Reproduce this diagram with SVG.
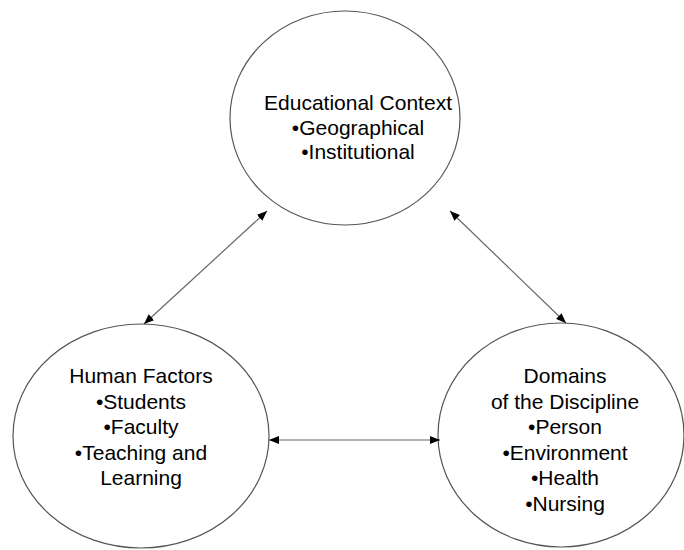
<svg xmlns="http://www.w3.org/2000/svg" width="684" height="550" viewBox="0 0 684 550">
<style>
.node ellipse{fill:#fff;stroke:#555;stroke-width:1.2}
.node text{font-family:"Liberation Sans",Arial,sans-serif;font-size:21px;fill:#000;text-anchor:middle}
.conn line{stroke:#666;stroke-width:1.2;marker-start:url(#ah);marker-end:url(#ah)}
</style>
<defs>
<marker id="ah" viewBox="0 0 10 8" refX="10" refY="4" markerWidth="10" markerHeight="8" markerUnits="userSpaceOnUse" orient="auto-start-reverse">
<path d="M0,0 L10,4 L0,8 Z" fill="#000"/>
</marker>
</defs>
<rect width="684" height="550" fill="#fff"/>
<g id="edu" class="node">
<ellipse cx="345" cy="118" rx="115" ry="107"/>
<text x="358" y="110">Educational Context</text>
<text x="358" y="134.5">•Geographical</text>
<text x="358" y="159">•Institutional</text>
</g>
<g id="human" class="node">
<ellipse cx="141" cy="436" rx="128" ry="112"/>
<text x="141" y="383">Human Factors</text>
<text x="141" y="408.5">•Students</text>
<text x="141" y="434">•Faculty</text>
<text x="141" y="459.5">•Teaching and</text>
<text x="141" y="485">Learning</text>
</g>
<g id="domains" class="node">
<ellipse cx="561" cy="435" rx="123" ry="112"/>
<text x="565" y="383">Domains</text>
<text x="565" y="408.5">of the Discipline</text>
<text x="565" y="434">•Person</text>
<text x="565" y="459.5">•Environment</text>
<text x="565" y="485">•Health</text>
<text x="565" y="510.5">•Nursing</text>
</g>
<g id="connectors" class="conn">
<line x1="267" y1="211" x2="144" y2="324"/>
<line x1="450" y1="211" x2="566" y2="323"/>
<line x1="269" y1="440" x2="440" y2="440"/>
</g>
</svg>
